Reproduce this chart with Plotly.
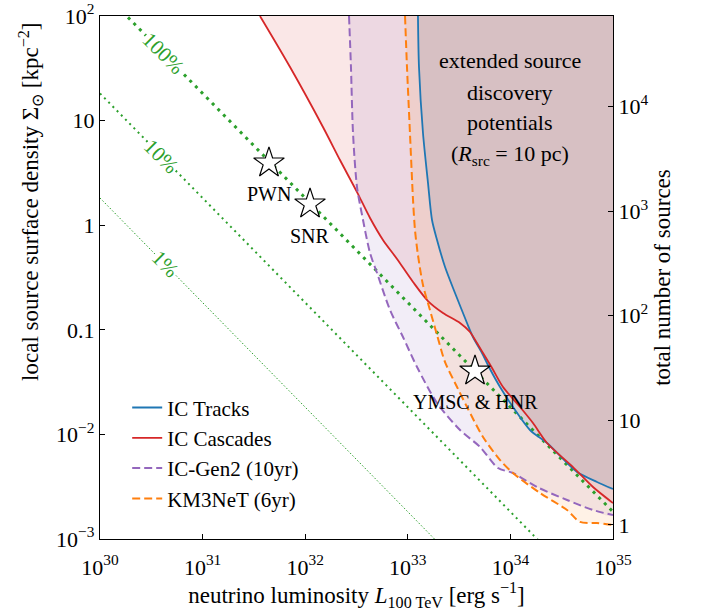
import plotly.graph_objects as go

# ---------------- data ----------------
X_RANGE_LOG = [30, 35]          # log10 L
Y_RANGE_LOG = [-3, 2]           # log10 Sigma
Y2_RANGE_LOG = [-0.134, 4.866]  # log10 N (total number of sources)

# IC Tracks (log10 L, log10 Sigma)
tracks_logL = [33.099, 33.109, 33.148, 33.197, 33.236, 33.285, 33.363, 33.460, 33.577, 33.635,
               33.723, 33.801, 33.899, 34.025, 34.191, 34.357, 34.552, 34.649, 34.844, 35.0]
tracks_logS = [2.0, 1.512, 0.881, 0.403, 0.050, -0.141, -0.400, -0.648, -0.935, -1.069,
               -1.222, -1.375, -1.547, -1.738, -1.958, -2.082, -2.273, -2.359, -2.455, -2.522]

# IC Cascades
casc_logL = [31.559, 31.852, 32.173, 32.339, 32.505, 32.632, 32.758, 32.895, 33.051, 33.197,
             33.343, 33.509, 33.606, 33.674, 33.733, 33.821, 33.928, 34.094, 34.220, 34.357,
             34.610, 34.805, 35.0]
casc_logS = [2.0, 1.512, 0.939, 0.623, 0.317, 0.069, -0.141, -0.323, -0.543, -0.725,
             -0.839, -0.935, -1.021, -1.126, -1.222, -1.365, -1.547, -1.738, -1.891, -2.082,
             -2.312, -2.503, -2.656]

# IC-Gen2 (10yr)
gen2_logL = [32.427, 32.446, 32.466, 32.505, 32.554, 32.632, 32.700, 32.827, 32.953, 33.090,
             33.285, 33.509, 33.704, 33.879, 34.025, 34.259, 34.552, 34.805, 35.0]
gen2_logS = [2.0, 1.512, 0.881, 0.365, 0.098, -0.266, -0.457, -0.811, -1.069, -1.356,
             -1.700, -1.958, -2.120, -2.321, -2.369, -2.503, -2.627, -2.723, -2.771]

# KM3NeT (6yr)
km3_logL = [32.973, 32.992, 33.021, 33.051, 33.070, 33.099, 33.148, 33.216, 33.285, 33.363,
            33.480, 33.577, 33.733, 33.899, 34.025, 34.288, 34.552, 34.678, 34.844, 35.0]
km3_logS = [2.0, 1.512, 0.881, 0.241, -0.046, -0.285, -0.572, -0.811, -1.050, -1.308,
            -1.547, -1.738, -2.025, -2.245, -2.369, -2.560, -2.723, -2.837, -2.847, -2.866]

# flux-fraction guide lines (Sigma at the two ends L=1e30 and L=1e35)
pct_names = ["100%", "10%", "1%"]
pct_L_ends = [1e30, 1e35]
pct_S_ends = [[182.0, 1.82e-3], [18.2, 1.82e-4], [1.82, 1.82e-5]]
pct_label_logL = [30.614, 30.604, 30.634]
pct_label_logS = [1.646, 0.656, -0.374]

# source classes
src_names = ["PWN", "SNR", "YMSC & HNR"]
src_logL = [31.647, 32.047, 33.655]
src_logS = [0.595, 0.203, -1.394]
src_label_logS = [0.300, -0.100, -1.690]

x_tickvals = [1e30, 1e31, 1e32, 1e33, 1e34, 1e35]
x_ticktext = ["10<sup>30</sup>", "10<sup>31</sup>", "10<sup>32</sup>",
              "10<sup>33</sup>", "10<sup>34</sup>", "10<sup>35</sup>"]
y_tickvals = [1e-3, 1e-2, 0.1, 1.0, 10.0, 100.0]
y_ticktext = ["10<sup>−3</sup>", "10<sup>−2</sup>", "0.1", "1", "10", "10<sup>2</sup>"]
y2_tickvals = [1.0, 10.0, 100.0, 1e3, 1e4]
y2_ticktext = ["1", "10", "10<sup>2</sup>", "10<sup>3</sup>", "10<sup>4</sup>"]

# ---------------- styling ----------------
FONT = "Liberation Serif"
C_BLUE, C_RED, C_PURPLE, C_ORANGE, C_GREEN = "#1f77b4", "#d62728", "#9467bd", "#ff7f0e", "#2ca02c"
SMOOTH = 0.8

X_MAX = 10.0 ** X_RANGE_LOG[1]
Y_MAX = 10.0 ** Y_RANGE_LOG[1]


def pw(v):
    return [10.0 ** a for a in v]


fig = go.Figure()

curves = [
    ("IC Tracks", tracks_logL, tracks_logS, C_BLUE, "solid", "rgba(31,119,180,0.15)"),
    ("IC Cascades", casc_logL, casc_logS, C_RED, "solid", "rgba(214,39,40,0.11)"),
    ("IC-Gen2 (10yr)", gen2_logL, gen2_logS, C_PURPLE, "8px,4px", "rgba(148,103,189,0.12)"),
    ("KM3NeT (6yr)", km3_logL, km3_logS, C_ORANGE, "8px,4px", "rgba(255,127,14,0.10)"),
]

# filled regions (to the right/top of every curve)
for name, lx, ly, col, dash, fcol in curves:
    fig.add_trace(go.Scatter(
        x=pw(lx) + [X_MAX], y=pw(ly) + [Y_MAX], mode="lines", fill="toself",
        fillcolor=fcol, line=dict(width=0, shape="spline", smoothing=SMOOTH),
        showlegend=False, hoverinfo="skip"))

# guide lines
pct_styles = [dict(width=3, dash="3px,5px"), dict(width=2, dash="2px,4px"), dict(width=1, dash="1.5px,2px")]
for nm, ends, st in zip(pct_names, pct_S_ends, pct_styles):
    fig.add_trace(go.Scatter(x=pct_L_ends, y=ends, mode="lines",
                             line=dict(color=C_GREEN, **st), showlegend=False, hoverinfo="skip"))

# curves
for i, (name, lx, ly, col, dash, fcol) in enumerate(curves):
    fig.add_trace(go.Scatter(x=pw(lx), y=pw(ly), mode="lines", name=name,
                             line=dict(color=col, width=1.8 if dash == "solid" else 2, dash=dash,
                                       shape="spline", smoothing=SMOOTH)))

# stars
fig.add_trace(go.Scatter(x=pw(src_logL), y=pw(src_logS), mode="markers",
                         marker=dict(symbol="star", size=23, color="white",
                                     line=dict(color="black", width=1.2)),
                         showlegend=False, hoverinfo="skip"))

# invisible trace carrying the right-hand axis (number of sources)
fig.add_trace(go.Scatter(x=[1e30, 1e35], y=[10 ** Y2_RANGE_LOG[0], 10 ** Y2_RANGE_LOG[1]],
                         yaxis="y2", mode="markers", marker=dict(opacity=0),
                         showlegend=False, hoverinfo="skip"))

ann = []
for nm, lx, ls in zip(src_names, src_logL, src_label_logS):
    ann.append(dict(x=lx, y=ls, xref="x", yref="y", text=nm, showarrow=False,
                    font=dict(family=FONT, size=20, color="black")))
for nm, lx, ls in zip(pct_names, pct_label_logL, pct_label_logS):
    ann.append(dict(x=lx, y=ls, xref="x", yref="y", text=nm, showarrow=False, textangle=45,
                    bgcolor="white", borderpad=0,
                    font=dict(family=FONT, size=21, color=C_GREEN)))

box_lines = ["extended source", "discovery", "potentials", "(<i>R</i><sub>src</sub> = 10 pc)"]
box_logS = [1.571, 1.265, 0.978, 0.672]
for t, ls in zip(box_lines, box_logS):
    ann.append(dict(x=34.0, y=ls, xref="x", yref="y", text=t, showarrow=False,
                    font=dict(family=FONT, size=22, color="black")))

# left axis title (placed like in the reference, shifted towards the top)
ann.append(dict(x=-0.136, y=0.645, xref="paper", yref="paper", textangle=-90, showarrow=False,
                xanchor="center", yanchor="middle",
                text="local source surface density Σ<sub>⊙</sub> [kpc<sup>−2</sup>]",
                font=dict(family=FONT, size=23, color="black")))

axis_common = dict(showgrid=False, zeroline=False, ticks="inside", ticklen=5, tickwidth=1,
                   tickcolor="black", showline=True, linecolor="black", linewidth=1.2,
                   automargin=False,
                   tickfont=dict(family=FONT, size=22, color="black"))

fig.update_layout(
    width=708, height=612,
    margin=dict(l=100, r=95, t=16, b=73),
    paper_bgcolor="white", plot_bgcolor="white",
    font=dict(family=FONT, size=20, color="black"),
    xaxis=dict(type="log", range=X_RANGE_LOG, tickvals=x_tickvals, ticktext=x_ticktext,
               mirror=True, ticklabelstandoff=8,
               title=dict(text="neutrino luminosity <i>L</i><sub>100 TeV</sub> [erg s<sup>−1</sup>]",
                          font=dict(family=FONT, size=23), standoff=6),
               **axis_common),
    yaxis=dict(type="log", range=Y_RANGE_LOG, tickvals=y_tickvals, ticktext=y_ticktext,
               **axis_common),
    yaxis2=dict(type="log", range=Y2_RANGE_LOG, tickvals=y2_tickvals, ticktext=y2_ticktext,
                overlaying="y", side="right", anchor="x",
                title=dict(text="total number of sources", font=dict(family=FONT, size=23), standoff=6),
                **axis_common),
    legend=dict(x=0.053, y=0.29, xanchor="left", yanchor="top", bgcolor="rgba(0,0,0,0)",
                font=dict(family=FONT, size=21), tracegroupgap=0),
    annotations=ann,
    showlegend=True,
)

fig.write_html("out.html")
